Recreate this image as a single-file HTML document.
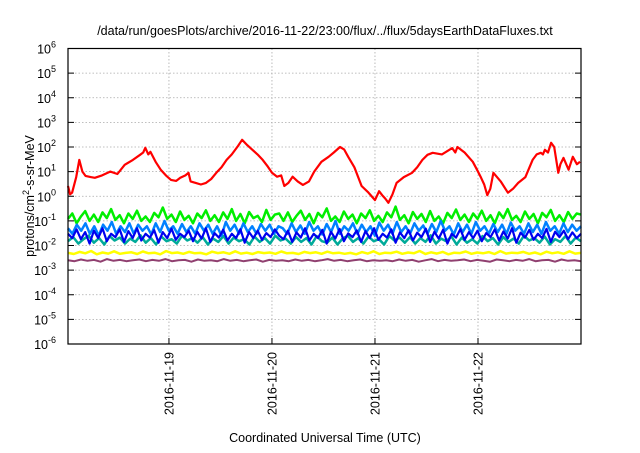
<!DOCTYPE html>
<html><head><meta charset="utf-8"><style>
body{margin:0;background:#fff;width:640px;height:448px;overflow:hidden}
svg text{font-family:"Liberation Sans",sans-serif;fill:#000}
</style></head><body>
<svg id="chart" width="640" height="448" viewBox="0 0 640 448" xmlns="http://www.w3.org/2000/svg">
<text x="325" y="35" font-size="12.5" text-anchor="middle">/data/run/goesPlots/archive/2016-11-22/23:00/flux/../flux/5daysEarthDataFluxes.txt</text>
<text x="325" y="442" font-size="12.5" text-anchor="middle">Coordinated Universal Time (UTC)</text>
<text transform="translate(34,196) rotate(-90)" font-size="12.5" text-anchor="middle">protons/cm<tspan font-size="9" dy="-5">2</tspan><tspan dy="5">-s-sr-MeV</tspan></text>
<g id="grid"></g><g id="series"></g><g id="axes"></g>
</svg>
<script>
const yExponents=[-6,-5,-4,-3,-2,-1,0,1,2,3,4,5,6];
const xTickDays=[1,2,3,4];
const xTickLabels=["2016-11-19","2016-11-20","2016-11-21","2016-11-22"];
const redTimes=[0.02,0.04,0.06,0.1,0.13,0.16,0.19,0.24,0.28,0.35,0.43,0.5,0.57,0.65,0.72,0.75,0.77,0.8,0.82,0.87,0.92,0.97,1.02,1.07,1.11,1.16,1.19,1.21,1.26,1.31,1.36,1.41,1.46,1.51,1.56,1.61,1.67,1.71,1.76,1.81,1.86,1.91,1.96,2.0,2.05,2.09,2.12,2.16,2.2,2.25,2.3,2.36,2.41,2.48,2.55,2.6,2.66,2.7,2.74,2.8,2.87,2.93,3.0,3.04,3.07,3.1,3.13,3.17,3.21,3.28,3.36,3.41,3.46,3.51,3.56,3.65,3.75,3.78,3.8,3.87,3.95,3.99,4.03,4.06,4.09,4.12,4.15,4.22,4.29,4.34,4.39,4.46,4.53,4.57,4.61,4.63,4.65,4.68,4.71,4.74,4.78,4.8,4.83,4.88,4.92,4.96,4.99];
const redValues=[2.6,1.2,1.4,6,30,10,6.7,6,5.6,7,10,8,19,30,48,60,93,50,64,25,12,7,4.6,4.2,5.6,7,9,4,3.5,3,3.5,5,9,15,30,50,110,196,120,77,50,30,16,9,6.2,7,2.6,3.5,6.2,4,2.9,4,10,25,40,60,100,80,40,15,2.6,1.5,0.7,1.6,1.1,0.8,0.54,1.2,3.5,6,9,15,30,48,58,50,90,60,100,60,25,12,5.6,3,1.1,2,9,4,1.4,2,3.5,6,30,50,58,50,77,60,148,100,9,20,36,12,40,20,25,9,6];
const greenValues=[0.12,0.2,0.08,0.15,0.25,0.1,0.18,0.09,0.22,0.13,0.3,0.11,0.17,0.08,0.2,0.12,0.26,0.1,0.15,0.09,0.21,0.14,0.35,0.12,0.18,0.09,0.24,0.11,0.16,0.08,0.2,0.13,0.27,0.1,0.17,0.09,0.22,0.12,0.3,0.1,0.19,0.08,0.23,0.13,0.16,0.09,0.28,0.11,0.18,0.2,0.1,0.22,0.09,0.16,0.26,0.11,0.19,0.08,0.21,0.14,0.32,0.1,0.15,0.09,0.24,0.12,0.18,0.08,0.2,0.13,0.27,0.1,0.16,0.09,0.22,0.14,0.38,0.11,0.17,0.08,0.23,0.12,0.19,0.09,0.25,0.1,0.15,0.08,0.21,0.13,0.29,0.11,0.18,0.09,0.2,0.12,0.26,0.1,0.17,0.08,0.22,0.13,0.3,0.11,0.16,0.09,0.24,0.12,0.19,0.08,0.21,0.14,0.28,0.1,0.17,0.09,0.23,0.12,0.2,0.18];
const tealValues=[0.015,0.022,0.012,0.018,0.025,0.013,0.02,0.011,0.024,0.016,0.021,0.012,0.019,0.014,0.026,0.013,0.02,0.011,0.023,0.015,0.018,0.012,0.025,0.016,0.02,0.013,0.022,0.011,0.019,0.014,0.024,0.012,0.021,0.015,0.018,0.011,0.023,0.014,0.02,0.012,0.025,0.016,0.019,0.012,0.022,0.014,0.02,0.011,0.024,0.015,0.013,0.021,0.011,0.019,0.025,0.014,0.02,0.012,0.023,0.015,0.018,0.011,0.024,0.016,0.021,0.013,0.022,0.012,0.02,0.014,0.026,0.012,0.019,0.015,0.023,0.011,0.021,0.013,0.018,0.012,0.024,0.015,0.02,0.011,0.022,0.014,0.019,0.012,0.025,0.016,0.02,0.013,0.023,0.011,0.018,0.014,0.024,0.012,0.021,0.015];
const lightBlueValues=[0.05,0.03,0.07,0.04,0.08,0.03,0.06,0.025,0.07,0.04,0.09,0.03,0.06,0.035,0.08,0.03,0.07,0.04,0.06,0.028,0.08,0.035,0.1,0.04,0.06,0.03,0.075,0.035,0.06,0.03,0.08,0.04,0.07,0.03,0.06,0.025,0.09,0.04,0.07,0.03,0.08,0.035,0.06,0.03,0.075,0.04,0.07,0.03,0.06,0.05,0.03,0.08,0.035,0.065,0.03,0.09,0.04,0.06,0.028,0.075,0.035,0.1,0.03,0.06,0.04,0.08,0.03,0.07,0.035,0.06,0.025,0.085,0.04,0.07,0.03,0.09,0.035,0.06,0.03,0.08,0.04,0.065,0.03,0.075,0.035,0.1,0.04,0.06,0.028,0.08,0.035,0.07,0.03,0.09,0.04,0.06,0.03,0.075,0.035,0.07,0.03,0.085,0.04,0.06,0.03,0.08,0.035,0.07,0.03,0.09,0.04,0.06,0.03,0.08,0.035,0.07,0.04,0.06];
const blueValues=[0.03,0.02,0.045,0.018,0.035,0.012,0.04,0.02,0.05,0.015,0.03,0.022,0.045,0.014,0.038,0.02,0.05,0.016,0.03,0.021,0.042,0.013,0.035,0.02,0.048,0.017,0.03,0.022,0.04,0.015,0.036,0.019,0.05,0.014,0.032,0.021,0.044,0.016,0.03,0.02,0.046,0.013,0.035,0.02,0.04,0.017,0.032,0.022,0.045,0.025,0.018,0.04,0.014,0.034,0.021,0.05,0.016,0.03,0.02,0.043,0.012,0.036,0.019,0.047,0.015,0.031,0.022,0.041,0.014,0.038,0.02,0.05,0.017,0.03,0.021,0.045,0.013,0.034,0.02,0.042,0.016,0.033,0.022,0.048,0.014,0.036,0.019,0.044,0.012,0.03,0.021,0.046,0.017,0.035,0.02,0.04,0.015,0.032,0.022,0.045,0.016,0.037,0.019,0.05,0.013,0.033,0.021,0.043,0.017,0.03,0.02,0.047,0.014,0.036,0.022,0.04,0.018,0.034,0.02,0.03];
const yellowValues=[0.005,0.0045,0.0055,0.0048,0.006,0.0044,0.0052,0.0047,0.0058,0.0046,0.005,0.0053,0.0045,0.0057,0.0048,0.0051,0.0044,0.0059,0.0049,0.0052,0.0046,0.0055,0.0048,0.005,0.0044,0.0056,0.0049,0.0053,0.0046,0.0058,0.0047,0.0051,0.0045,0.0054,0.0049,0.0052,0.0046,0.0057,0.0048,0.005,0.0045,0.0055,0.0049,0.0053,0.0046,0.0056,0.0048,0.0051,0.0046,0.005,0.0044,0.0054,0.0047,0.0058,0.0045,0.0051,0.0049,0.0056,0.0046,0.0052,0.0048,0.006,0.0045,0.0053,0.0047,0.0055,0.0044,0.0051,0.0049,0.0057,0.0046,0.0052,0.0048,0.0054,0.0045,0.0059,0.0047,0.0051,0.0049,0.0055,0.0046,0.0052,0.0044,0.0056,0.0048,0.0053,0.0046,0.0058,0.0047,0.005];
const purpleValues=[0.0025,0.0023,0.0027,0.0024,0.0026,0.0022,0.0028,0.0024,0.0026,0.0023,0.0025,0.0027,0.0023,0.0026,0.0024,0.0028,0.0023,0.0025,0.0026,0.0022,0.0027,0.0024,0.0025,0.0023,0.0028,0.0024,0.0026,0.0023,0.0025,0.0027,0.0022,0.0026,0.0024,0.0025,0.0023,0.0027,0.0024,0.0026,0.0023,0.0025,0.0028,0.0024,0.0026,0.0023,0.0025,0.0027,0.0023,0.0025,0.0024,0.0025,0.0023,0.0027,0.0024,0.0026,0.0022,0.0025,0.0028,0.0023,0.0026,0.0024,0.0025,0.0027,0.0023,0.0026,0.0024,0.0022,0.0027,0.0025,0.0023,0.0026,0.0024,0.0028,0.0023,0.0025,0.0026,0.0022,0.0027,0.0024,0.0025,0.0023];
const X0=68,X1=581,Y0=48.5,Y1=344,D0=0.02,D1=5.0;
function xs(d){return X0+(d-D0)/(D1-D0)*(X1-X0);}
function ys(v){return Y1-(Math.log10(v)+6)/12*(Y1-Y0);}
const NS='http://www.w3.org/2000/svg';
function mk(tag,attrs,parent){const e=document.createElementNS(NS,tag);for(const k in attrs)e.setAttribute(k,attrs[k]);parent.appendChild(e);return e;}
const grid=document.getElementById('grid'),axes=document.getElementById('axes'),ser=document.getElementById('series');
yExponents.forEach(p=>{const y=ys(Math.pow(10,p));
 if(p>-6&&p<6){const g=mk('line',{x1:X0,x2:X1,y1:y,y2:y,stroke:'#aaa','stroke-width':0.8,'stroke-dasharray':'1.5,2'},grid);
 
 }
 const t=mk('line',{x1:X0,x2:X0+6,y1:y,y2:y,stroke:'#000'},axes);
 
 
 const t2=mk('line',{x1:X1-6,x2:X1,y1:y,y2:y,stroke:'#000'},axes);
 
 
 const tx=mk('text',{x:56,y:y+5,'font-size':12.5,'text-anchor':'end'},axes);
 
 
 tx.innerHTML='10<tspan font-size="9" dy="-6">'+p+'</tspan>';
});
xTickDays.forEach((d,i)=>{const x=xs(d);
 const g=mk('line',{x1:x,x2:x,y1:Y0,y2:Y1,stroke:'#aaa','stroke-width':0.8,'stroke-dasharray':'1.5,2'},grid);
 
 
 const t=mk('line',{x1:x,x2:x,y1:Y1-6,y2:Y1,stroke:'#000'},axes);
 
 
 const tx=mk('text',{transform:'translate('+(x+4.5)+',352) rotate(-90)','font-size':12.5,'text-anchor':'end'},axes);
 
 
 tx.textContent=xTickLabels[i];
});
const fr=mk('rect',{x:X0,y:Y0,width:X1-X0,height:Y1-Y0,fill:'none',stroke:'#000','stroke-width':1.2},axes);


function evenTimes(n){const a=[];for(let i=0;i<n;i++)a.push(D0+i*(D1-D0)/(n-1));return a;}
function drawLine(times,vals,color,name,w){
 const pts=times.map((t,i)=>xs(t).toFixed(1)+','+ys(vals[i]).toFixed(1)).join(' ');
 const p=mk('polyline',{points:pts,fill:'none',stroke:color,'stroke-width':w,'stroke-linejoin':'round'},ser);
 
 
}
drawLine(evenTimes(greenValues.length),greenValues,'#00ee00','series-green',2.5);
drawLine(evenTimes(tealValues.length),tealValues,'#00aa99','series-teal',2.5);
drawLine(evenTimes(lightBlueValues.length),lightBlueValues,'#0080ff','series-light-blue',2.5);
drawLine(evenTimes(blueValues.length),blueValues,'#0000ee','series-blue',2.2);
drawLine(evenTimes(yellowValues.length),yellowValues,'#ffff00','series-yellow',2.5);
drawLine(evenTimes(purpleValues.length),purpleValues,'#904070','series-purple',2);
drawLine(redTimes,redValues,'#ff0000','series-red',2.2);
</script>
</body></html>
